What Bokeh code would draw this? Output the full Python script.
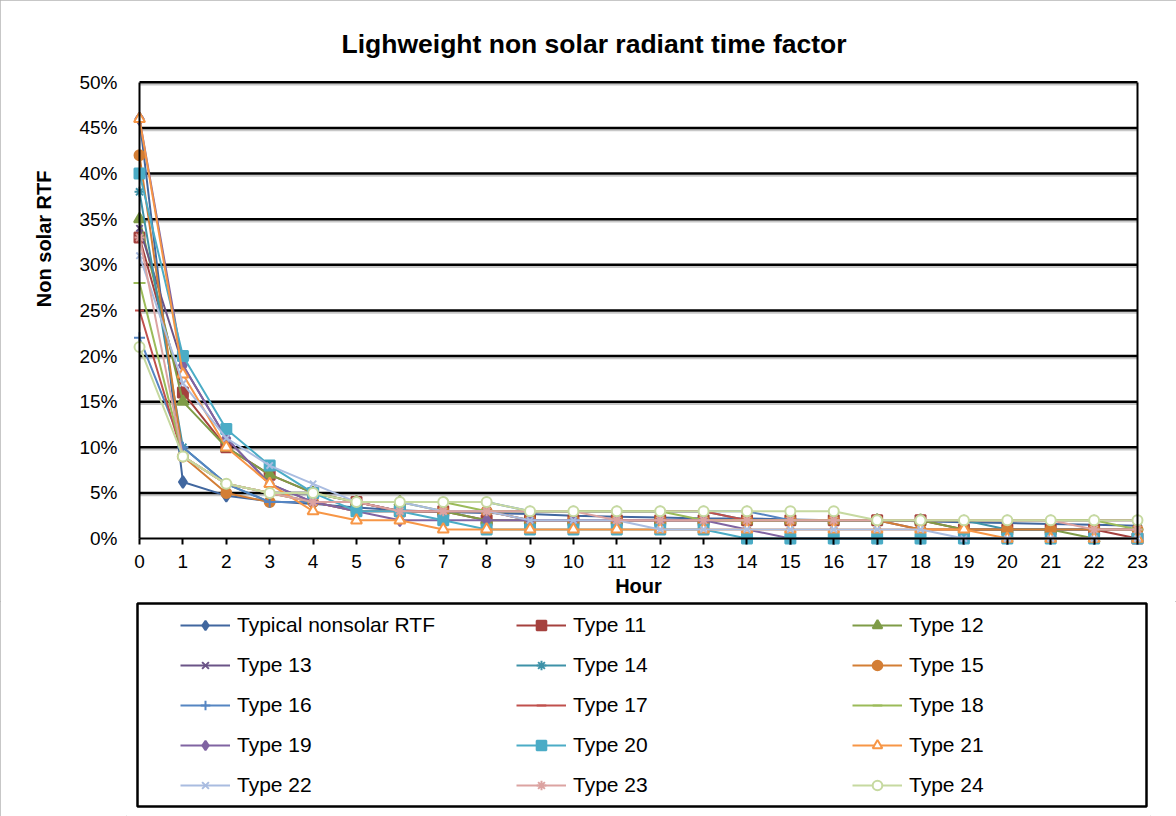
from bokeh.plotting import figure
from bokeh.models import (Range1d, FixedTicker, NumeralTickFormatter, Legend,
                          LegendItem, Title, LinearAxis, BoxAnnotation)
from bokeh.layouts import column
from bokeh.embed import file_html
from bokeh.resources import INLINE

# ---- data (percent of heat gain released in each hour) ----
hours = list(range(24))
y_ticks = [0.0, 0.05, 0.10, 0.15, 0.20, 0.25, 0.30, 0.35, 0.40, 0.45, 0.50]

series_names = ["Typical nonsolar RTF", "Type 11", "Type 12", "Type 13", "Type 14",
                "Type 15", "Type 16", "Type 17", "Type 18", "Type 19", "Type 20",
                "Type 21", "Type 22", "Type 23", "Type 24"]

typical = [46, 6.2, 4.7, 4.1, 3.8, 3.4, 3.1, 2.9, 2.8, 2.7, 2.5, 2.4, 2.3, 2.2, 2.2, 2.1, 2.0, 2.0, 1.9, 1.8, 1.7, 1.6, 1.5, 1.4]
type_11 = [33, 16, 10, 7, 5, 4, 3, 3, 2, 2, 2, 2, 2, 2, 2, 2, 2, 2, 2, 1, 1, 1, 1, 0]
type_12 = [35, 15, 10, 7, 5, 4, 4, 3, 2, 2, 2, 2, 2, 2, 2, 2, 2, 2, 2, 1, 1, 1, 0, 0]
type_13 = [34, 19, 11, 6, 4, 3, 3, 3, 3, 2, 2, 2, 2, 2, 2, 2, 2, 2, 1, 1, 1, 1, 1, 1]
type_14 = [38, 10, 6, 4, 4, 4, 3, 3, 3, 3, 3, 3, 3, 3, 2, 2, 2, 2, 2, 2, 1, 1, 1, 1]
type_15 = [42, 9, 5, 4, 4, 3, 3, 3, 3, 2, 2, 2, 2, 2, 2, 2, 2, 2, 1, 1, 1, 1, 1, 1]
type_16 = [22, 10, 6, 4, 4, 4, 4, 4, 4, 3, 3, 3, 3, 3, 3, 2, 2, 2, 2, 2, 2, 2, 2, 2]
type_17 = [25, 9, 6, 5, 4, 4, 3, 3, 3, 3, 3, 3, 3, 3, 2, 2, 2, 2, 2, 2, 2, 2, 2, 2]
type_18 = [28, 9, 6, 5, 4, 4, 4, 4, 3, 3, 3, 3, 3, 2, 2, 2, 2, 2, 2, 2, 2, 2, 2, 1]
type_19 = [46, 19, 11, 6, 4, 3, 2, 2, 2, 2, 2, 2, 2, 2, 1, 0, 0, 0, 0, 0, 0, 0, 0, 0]
type_20 = [40, 20, 12, 8, 5, 3, 3, 2, 1, 1, 1, 1, 1, 1, 0, 0, 0, 0, 0, 0, 0, 0, 0, 0]
type_21 = [46, 18, 10, 6, 3, 2, 2, 1, 1, 1, 1, 1, 1, 1, 1, 1, 1, 1, 1, 1, 0, 0, 0, 0]
type_22 = [31, 17, 11, 8, 6, 4, 4, 3, 3, 2, 2, 2, 1, 1, 1, 1, 1, 1, 1, 0, 0, 0, 0, 0]
type_23 = [33, 9, 6, 5, 4, 4, 3, 3, 3, 3, 3, 2, 2, 2, 2, 2, 2, 2, 2, 2, 2, 2, 1, 1]
type_24 = [21, 9, 6, 5, 5, 4, 4, 4, 4, 3, 3, 3, 3, 3, 3, 3, 3, 2, 2, 2, 2, 2, 2, 2]

series_values = [typical, type_11, type_12, type_13, type_14, type_15, type_16,
                 type_17, type_18, type_19, type_20, type_21, type_22, type_23, type_24]

# ---- styling per series ----
colors = ["#41679F", "#A5413E", "#7F9C47", "#6B5487", "#3E92A8", "#D37E35",
          "#5585C2", "#C0504D", "#9BBB59", "#8064A2", "#4BACC6", "#F79646",
          "#A9BCE0", "#DCA3A1", "#C6D9A0"]
markers = ["diamond", "square", "triangle", "x", "asterisk", "circle", "cross",
           "dash", "dash", "diamond", "square", "triangle", "x", "asterisk", "circle"]
hollow = [False] * 11 + [True, False, False, True]
sizes = [12, 10, 11, 9, 10, 10, 11, 9, 12, 12, 10, 11, 9, 10, 10]

FONT = "Liberation Sans"
X_LO, X_HI = hours[0], hours[-1]
Y_LO, Y_HI = y_ticks[0], y_ticks[-1]

# ---- chart ----
# ranges are padded a little so markers on the axes are not cut by the frame
p = figure(width=1176, height=601, x_range=Range1d(-0.3, 23.3),
           y_range=Range1d(-0.012, 0.502),
           output_backend="svg", toolbar_location=None,
           min_border_left=126, min_border_right=26, min_border_top=80,
           min_border_bottom=52)

p.title.text = "Lighweight non solar radiant time factor"
p.title.align = "left"
p.title.offset = 215
p.title.standoff = 44
p.title.text_font = FONT
p.title.text_font_size = "26.5px"
p.title.text_font_style = "bold"
p.title.text_color = "black"

p.outline_line_color = None
p.xgrid.visible = False
p.ygrid.visible = False

# horizontal gridlines (with a soft shadow underneath) spanning hour 0..23
shadow_y = [t - 0.0025 for t in y_ticks[1:]]
p.segment(x0=X_LO, x1=X_HI, y0=shadow_y, y1=shadow_y,
          line_color="#c8c8c8", line_width=2)
p.segment(x0=X_LO, x1=X_HI, y0=y_ticks[1:], y1=y_ticks[1:],
          line_color="black", line_width=2.5)

# tick labels come from the regular side axes (lines hidden)
xa = p.xaxis[0]
xa.ticker = FixedTicker(ticks=hours)
xa.axis_label = "Hour"
xa.axis_label_text_font = FONT
xa.axis_label_text_font_size = "20px"
xa.axis_label_text_font_style = "bold"
xa.axis_label_text_color = "black"
xa.axis_label_standoff = 4
xa.major_label_text_font = FONT
xa.major_label_text_font_size = "19px"
xa.major_label_text_color = "black"
xa.major_label_standoff = 5
xa.major_tick_out = 0
xa.major_tick_in = 0
xa.major_tick_line_color = None
xa.minor_tick_line_color = None
xa.axis_line_color = None

ya = p.yaxis[0]
ya.ticker = FixedTicker(ticks=y_ticks)
ya.formatter = NumeralTickFormatter(format="0%")
ya.major_label_text_font = FONT
ya.major_label_text_font_size = "19px"
ya.major_label_text_color = "black"
ya.major_label_standoff = 9
ya.major_tick_out = 0
ya.major_tick_in = 0
ya.major_tick_line_color = None
ya.minor_tick_line_color = None
ya.axis_line_color = None

# axis lines and hour ticks drawn at the data origin
x_line = LinearAxis(fixed_location=Y_LO, bounds=(X_LO, X_HI),
                    ticker=FixedTicker(ticks=hours), axis_line_color="black",
                    axis_line_width=2, major_tick_line_color="black",
                    major_tick_line_width=2, major_tick_out=6, major_tick_in=0,
                    minor_tick_line_color=None, major_label_text_color=None,
                    major_label_text_font_size="1px")
p.add_layout(x_line, "below")
for loc in (X_LO, X_HI):
    v_line = LinearAxis(fixed_location=loc, bounds=(Y_LO, Y_HI),
                        ticker=FixedTicker(ticks=[]), axis_line_color="black",
                        axis_line_width=2, major_tick_line_color=None,
                        minor_tick_line_color=None, major_label_text_color=None,
                        major_label_text_font_size="1px")
    p.add_layout(v_line, "right")

ytitle = Title(text="Non solar RTF", align="right", offset=90, standoff=44,
               text_font=FONT, text_font_size="20px", text_font_style="bold",
               text_color="black")
p.add_layout(ytitle, "left")

for vals, c, m, h, s in zip(series_values, colors, markers, hollow, sizes):
    frac = [v / 100 for v in vals]
    p.line(hours, frac, line_color=c, line_width=2)
    p.scatter(hours, frac, marker=m, size=s, line_color=c, line_width=2,
              fill_color="white" if h else c)

# ---- legend panel (coordinates here are page pixels) ----
BOX_L, BOX_R, BOX_T, BOX_B = 137, 1146, 603, 806
lg = figure(width=1176, height=215, x_range=Range1d(126, 1150),
            y_range=Range1d(816, 601), output_backend="svg",
            toolbar_location=None, min_border_left=126, min_border_right=26,
            min_border_top=0, min_border_bottom=0)
lg.xaxis.visible = False
lg.yaxis.visible = False
lg.xgrid.visible = False
lg.ygrid.visible = False
lg.outline_line_color = None

lg.add_layout(BoxAnnotation(left=BOX_L, right=BOX_R, top=BOX_T, bottom=BOX_B,
                            fill_alpha=0, line_color="black", line_alpha=1,
                            line_width=2.5))

# the series are drawn again here (outside the visible range) so the
# legend has glyphs to show
items = []
for name, vals, c, m, h in zip(series_names, series_values, colors, markers, hollow):
    frac = [v / 100 for v in vals]
    r1 = lg.line(hours, frac, line_color=c, line_width=2)
    r2 = lg.scatter(hours, frac, marker=m, line_color=c, line_width=2,
                    fill_color="white" if h else c)
    items.append(LegendItem(label=name, renderers=[r1, r2]))

legend = Legend(items=items, orientation="horizontal", ncols=3,
                location=(54, 19), padding=0, margin=0, spacing=16,
                glyph_width=50, glyph_height=24, label_height=24,
                label_width=263, label_standoff=7,
                label_text_font=FONT, label_text_font_size="21px",
                label_text_color="black",
                border_line_alpha=0, background_fill_alpha=0)
lg.add_layout(legend)

layout = column(p, lg, spacing=0,
                styles={"outline": "1px solid #b4b4b4", "outline-offset": "-1px"})
open("out.html", "w").write(file_html(layout, INLINE))
